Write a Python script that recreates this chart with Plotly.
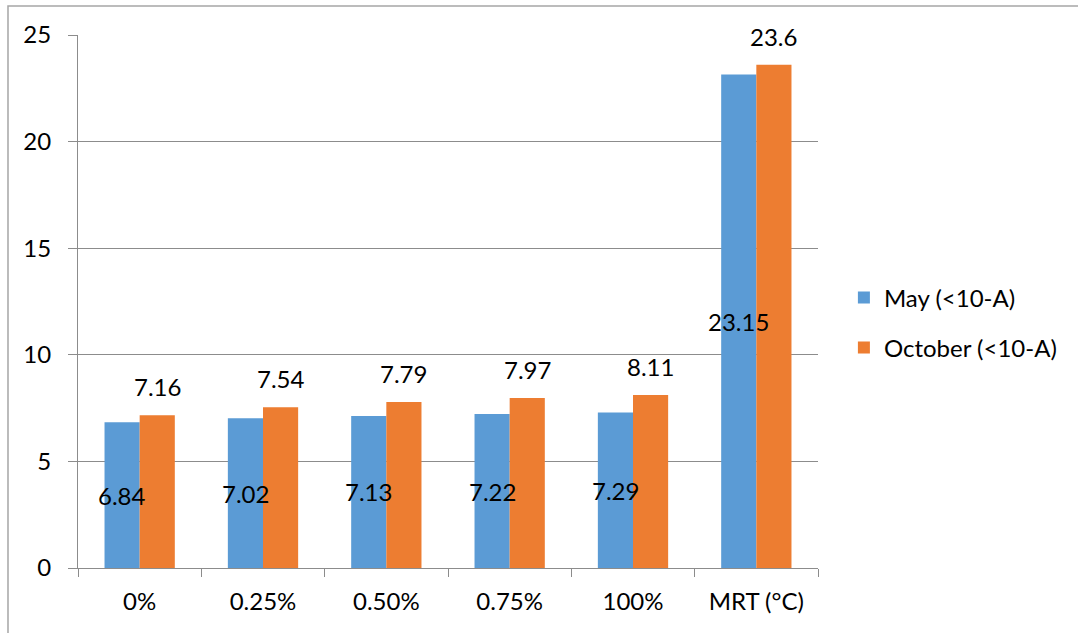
import plotly.graph_objects as go

categories = ["0%", "0.25%", "0.50%", "0.75%", "100%", "MRT (°C)"]
may_values = [6.84, 7.02, 7.13, 7.22, 7.29, 23.15]
october_values = [7.16, 7.54, 7.79, 7.97, 8.11, 23.6]
y_ticks = [0, 5, 10, 15, 20, 25]

FONT = "Lato"
FS = 24
GRID = "#8c8c8c"

fig = go.Figure()
fig.add_trace(go.Bar(
    x=categories, y=may_values, name="May (<10-A)",
    legendgroup="may",
    marker=dict(color="#5B9BD5", line=dict(width=0)),
))
fig.add_trace(go.Bar(
    x=categories, y=october_values, name="October (<10-A)",
    legendgroup="oct",
    marker=dict(color="#ED7D31", line=dict(width=0)),
))

# May labels centred inside their bars, drawn above everything
for cat, v in zip(categories, may_values):
    fig.add_annotation(
        x=cat, y=v / 2, text=f"{v:g}", showarrow=False,
        xshift=-17.5, yanchor="middle",
        font=dict(family=FONT, size=FS, color="black"),
    )

# October value labels sit above their bars
for cat, v in zip(categories, october_values):
    fig.add_annotation(
        x=cat, y=v, text=f"{v:g}", showarrow=False,
        xshift=17.5, yshift=12, yanchor="bottom",
        font=dict(family=FONT, size=FS, color="black"),
    )

# light frame around the chart area
fig.add_shape(type="rect", xref="paper", yref="paper",
              x0=-0.0946, x1=1.4, y0=-0.2, y1=1.0544,
              line=dict(color="#a6a6a6", width=1.5), layer="below")

fig.update_layout(
    width=1078, height=633,
    margin=dict(l=78, r=260, t=35, b=65),
    paper_bgcolor="white", plot_bgcolor="white",
    barmode="group", bargap=0.43, bargroupgap=0,
    font=dict(family=FONT, size=FS, color="black"),
    legend=dict(
        x=1.035, y=0.46, xanchor="left", yanchor="middle",
        font=dict(family=FONT, size=FS, color="black"),
        traceorder="grouped", tracegroupgap=16, itemwidth=30,
    ),
    showlegend=True,
)
fig.update_xaxes(
    showline=True, linecolor=GRID, linewidth=1.2,
    ticks="outside", tickson="boundaries", ticklen=8, tickcolor=GRID,
    ticklabelstandoff=12,
    showgrid=False, tickfont=dict(family=FONT, size=FS, color="black"),
)
fig.update_yaxes(
    range=[0, 25], tickvals=y_ticks, showline=True, linecolor=GRID, linewidth=1.2,
    ticks="outside", ticklen=9, tickcolor=GRID,
    showgrid=True, gridcolor=GRID, gridwidth=1.2, zeroline=False,
    ticklabelstandoff=12, tickfont=dict(family=FONT, size=FS, color="black"),
)

fig.write_html("out.html")
